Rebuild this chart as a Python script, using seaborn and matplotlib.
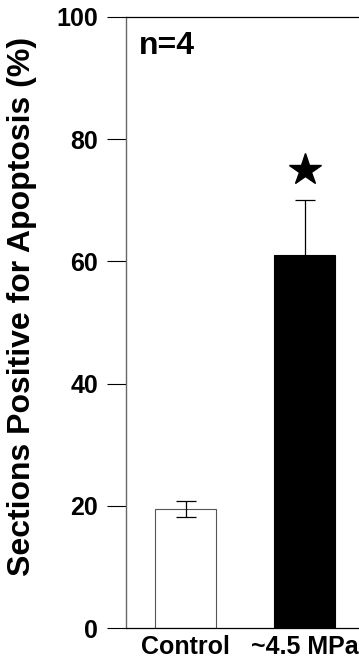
import matplotlib
matplotlib.use("Agg")
import matplotlib.pyplot as plt
import seaborn as sns
import pandas as pd

# values
groups = ["Control", "~4.5 MPa"]
means = [19.5, 61.0]
sems = [1.35, 9.0]
bar_colors = ["white", "black"]
star_value = 75.0
y_ticks = [0, 20, 40, 60, 80, 100]

sns.set_style("ticks")
plt.rcParams['font.family'] = ['Liberation Sans', 'DejaVu Sans']
plt.rcParams['font.weight'] = 'bold'
plt.rcParams['text.color'] = 'black'
plt.rcParams['axes.labelcolor'] = 'black'
plt.rcParams['xtick.color'] = 'black'
plt.rcParams['ytick.color'] = 'black'

df = pd.DataFrame({"group": groups, "value": means})

fig = plt.figure(figsize=(3.59, 6.59), dpi=100)
# axes runs past the right edge of the figure, as in the original
ax = fig.add_axes([126 / 359, 31 / 659, 238 / 359, 611 / 659])

sns.barplot(data=df, x="group", y="value", hue="group", palette=bar_colors,
            width=0.52, edgecolor="#555555", linewidth=0.8, legend=False, ax=ax)
ax.patches[1].set_edgecolor("black")

ax.errorbar(x=[0, 1], y=means, yerr=sems, fmt="none", ecolor="black",
            elinewidth=0.9, capsize=7, capthick=0.9)
ax.plot([1], [star_value], marker="*", markersize=24, color="black", linestyle="none")

ax.set_xlim(-0.5, 1.5)
ax.set_ylim(0, 100)
ax.set_yticks(y_ticks)
ax.tick_params(axis="y", direction="out", length=14, width=0.8, pad=6,
               labelsize=18, labelcolor="black")
ax.tick_params(axis="x", length=0, pad=5, labelsize=18, labelcolor="black")
for lab in ax.get_xticklabels() + ax.get_yticklabels():
    lab.set_fontweight("bold")

for side in ["top", "bottom", "right"]:
    ax.spines[side].set_visible(True)
    ax.spines[side].set_color("black")
    ax.spines[side].set_linewidth(0.9)
ax.spines["left"].set_color("#666666")
ax.spines["left"].set_linewidth(1.0)

ax.set_xlabel("")
ax.set_ylabel("Sections Positive for Apoptosis (%)", fontsize=23, fontweight="bold")
ax.yaxis.set_label_coords(-0.372, 0.527)

ax.text(0.055, 0.939, "n=4", transform=ax.transAxes, fontsize=23,
        fontweight="bold", ha="left", va="baseline")

fig.savefig("out.png", dpi=100)
